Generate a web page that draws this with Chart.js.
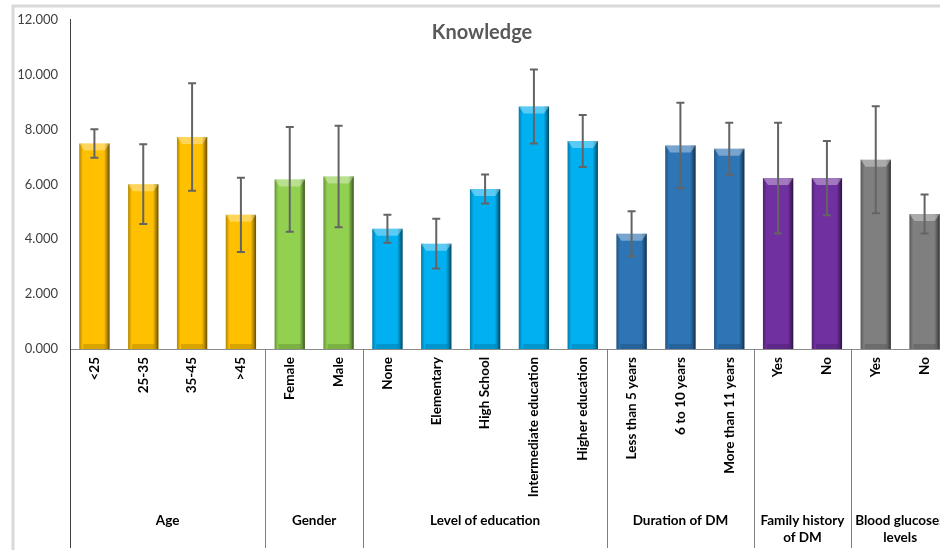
<!DOCTYPE html>
<html>
<head>
<meta charset="utf-8">
<script src="https://cdn.jsdelivr.net/npm/chart.js@4/dist/chart.umd.min.js"></script>
<style>
  html, body { margin: 0; padding: 0; background: #fff; overflow: hidden; }
  #wrap { width: 949px; height: 550px; }
</style>
</head>
<body>
<div id="wrap"><canvas id="chart" width="949" height="550"></canvas></div>
<script>
// subgroups along the x axis
const categories = ['<25', '25-35', '35-45', '>45', 'Female', 'Male',
    'None', 'Elementary', 'High School', 'Intermediate education', 'Higher education',
    'Less than 5 years', '6 to 10 years', 'More than 11 years', 'Yes', 'No', 'Yes', 'No'];
// mean knowledge score and the +/- bar
const means = [7.49, 6.01, 7.73, 4.89, 6.18, 6.29, 4.38, 3.84, 5.83, 8.84, 7.58,
    4.20, 7.42, 7.30, 6.23, 6.23, 6.90, 4.92];
const sds = [0.52, 1.45, 1.96, 1.35, 1.91, 1.85, 0.51, 0.91, 0.53, 1.35, 0.95,
    0.82, 1.56, 0.95, 2.02, 1.35, 1.95, 0.71];
const groupNames = ['Age', 'Gender', 'Level of education', 'Duration of DM',
    ['Family history', 'of DM'], ['Blood glucoses', 'levels']];
const groupSizes = [4, 2, 5, 3, 2, 2];
const groupColors = ['#FFC000', '#92D050', '#00B0F0', '#2E75B6', '#7030A0', '#7F7F7F'];
const yTicks = [0, 2, 4, 6, 8, 10, 12];

const FONT = 'Lato, "Open Sans", sans-serif';

// colour for each bar, from its group
const barColors = [];
groupSizes.forEach((n, g) => { for (let i = 0; i < n; i++) barColors.push(groupColors[g]); });

const framePlugin = {
    id: 'frame',
    beforeDraw(chart) {
        const c = chart.ctx;
        c.save();
        c.strokeStyle = '#d9d9d9';
        c.lineWidth = 3;
        c.beginPath();
        c.moveTo(13, 550);
        c.lineTo(13, 6);
        c.lineTo(chart.width, 6);
        c.stroke();
        c.restore();
    }
};

// bevel look + error bars drawn on top of the bars
const barExtras = {
    id: 'barExtras',
    afterDatasetsDraw(chart) {
        const c = chart.ctx;
        const y = chart.scales.y;
        const meta = chart.getDatasetMeta(0);
        c.save();
        meta.data.forEach((bar, i) => {
            const left = bar.x - bar.width / 2, right = bar.x + bar.width / 2;
            const top = bar.y, bottom = bar.base;
            const g = c.createLinearGradient(left, 0, right, 0);
            g.addColorStop(0, 'rgba(0,0,0,0.30)');
            g.addColorStop(0.12, 'rgba(0,0,0,0)');
            g.addColorStop(0.82, 'rgba(0,0,0,0)');
            g.addColorStop(0.9, 'rgba(0,0,0,0.25)');
            g.addColorStop(1, 'rgba(0,0,0,0.6)');
            c.fillStyle = g;
            c.fillRect(left, top, right - left, bottom - top);
            // top highlight
            c.fillStyle = 'rgba(255,255,255,0.35)';
            c.beginPath();
            c.moveTo(left, top);
            c.lineTo(right, top);
            c.lineTo(right - 5, top + 7);
            c.lineTo(left + 5, top + 7);
            c.closePath();
            c.fill();
            // bottom shade
            c.fillStyle = 'rgba(0,0,0,0.15)';
            c.fillRect(left + 4, bottom - 5, right - left - 8, 5);
        });
        c.strokeStyle = '#646464';
        c.lineWidth = 2;
        meta.data.forEach((bar, i) => {
            const hi = y.getPixelForValue(means[i] + sds[i]);
            const lo = y.getPixelForValue(means[i] - sds[i]);
            c.beginPath();
            c.moveTo(bar.x, hi); c.lineTo(bar.x, lo);
            c.moveTo(bar.x - 4, hi); c.lineTo(bar.x + 4, hi);
            c.moveTo(bar.x - 4, lo); c.lineTo(bar.x + 4, lo);
            c.stroke();
        });
        c.restore();
    }
};

// group separators and group names under the rotated labels
const groupAxis = {
    id: 'groupAxis',
    afterDraw(chart) {
        const c = chart.ctx;
        const x = chart.scales.x;
        const area = chart.chartArea;
        const step = x.getPixelForValue(1) - x.getPixelForValue(0);
        c.save();
        let start = 0;
        groupSizes.forEach((n, g) => {
            const x0 = x.getPixelForValue(start) - step / 2;
            const x1 = x.getPixelForValue(start + n - 1) + step / 2;
            c.strokeStyle = g === 0 ? '#404040' : '#7f7f7f';
            c.lineWidth = 1;
            c.beginPath();
            c.moveTo(Math.round(x0) + 0.5, area.bottom);
            c.lineTo(Math.round(x0) + 0.5, 548);
            c.stroke();
            const lines = [].concat(groupNames[g]);
            c.fillStyle = '#000';
            c.font = 'bold 13.5px ' + FONT;
            c.textAlign = 'center';
            c.textBaseline = 'middle';
            lines.forEach((t, k) => c.fillText(t, (x0 + x1) / 2, 521 + k * 17));
            start += n;
        });
        // chart title sits inside the plot
        c.fillStyle = '#595959';
        c.font = 'bold 20px ' + FONT;
        c.textAlign = 'center';
        c.fillText('Knowledge', 482, 33);
        c.restore();
    }
};

new Chart(document.getElementById('chart'), {
    type: 'bar',
    data: {
        labels: categories,
        datasets: [{
            data: means,
            backgroundColor: barColors,
            borderWidth: 0,
            barPercentage: 0.62,
            categoryPercentage: 1
        }]
    },
    options: {
        responsive: false,
        animation: false,
        devicePixelRatio: 1,
        layout: { padding: { top: 16, left: 0, right: 0, bottom: 0 } },
        plugins: { legend: { display: false }, tooltip: { enabled: false } },
        scales: {
            y: {
                min: 0, max: 12,
                afterBuildTicks: s => { s.ticks = yTicks.map(v => ({ value: v })); },
                afterFit: s => { s.width = 70; },
                grid: { display: false, drawTicks: false },
                border: { display: true, color: '#404040', width: 1 },
                ticks: {
                    padding: 12,
                    color: '#404040',
                    font: { family: FONT, size: 13 },
                    callback: v => v.toFixed(3)
                }
            },
            x: {
                afterFit: s => { s.height = 201; },
                grid: { display: false, drawTicks: false },
                border: { display: true, color: '#8c8c8c', width: 1 },
                ticks: {
                    autoSkip: false,
                    minRotation: 90, maxRotation: 90,
                    padding: 8,
                    color: '#000',
                    font: { family: FONT, size: 13.5, weight: 'bold' }
                }
            }
        }
    },
    plugins: [framePlugin, barExtras, groupAxis]
});
</script>
</body>
</html>
